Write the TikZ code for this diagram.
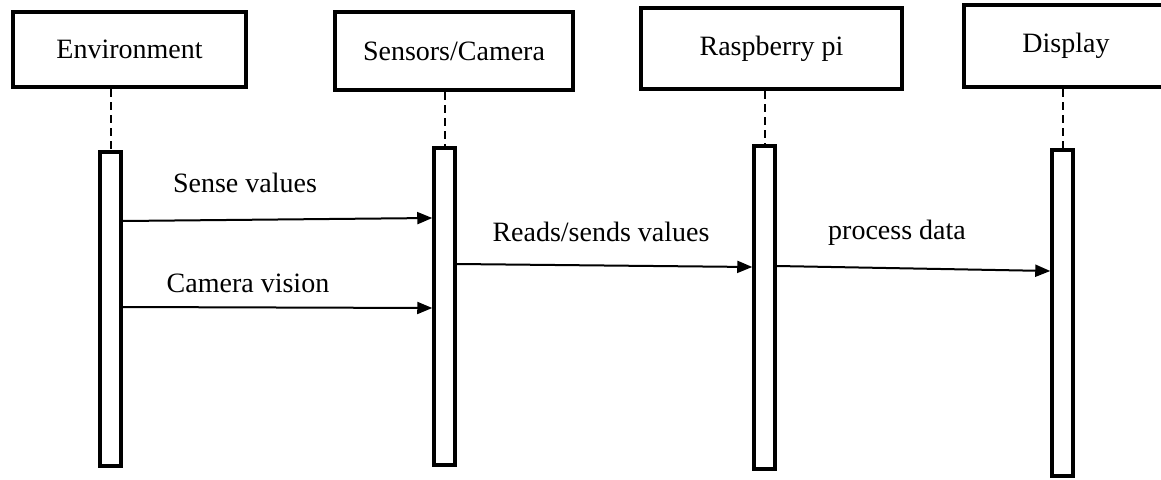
\documentclass[tikz,border=0pt]{standalone}
\usepackage{fontspec}
\setmainfont{Liberation Serif}
\usetikzlibrary{arrows.meta}

\begin{document}
\begin{tikzpicture}[x=1pt,y=-1pt,
  actor/.style={draw=black,line width=4.5pt,fill=white,inner sep=0pt,font=\fontsize{28}{32}\selectfont},
  bar/.style={draw=black,line width=3.5pt,fill=white,minimum width=21pt,inner sep=0pt},
  life/.style={draw=black,line width=2pt,dash pattern=on 8pt off 5pt},
  msg/.style={draw=black,line width=2pt,-{Triangle[length=15pt,width=12pt]}},
  lbl/.style={font=\fontsize{28}{32}\selectfont,inner sep=0pt}]
\useasboundingbox (0,0) rectangle (1161,479);
\clip (0,0) rectangle (1161,479);
% participants:
\node[actor,minimum width=233pt,minimum height=75pt] (env) at (129.5,49.5) {Environment};
\node[actor,minimum width=238pt,minimum height=78pt] (sen) at (454,51) {Sensors/Camera};
\node[actor,minimum width=261pt,minimum height=81pt] (rpi) at (771.5,48.5) {Raspberry pi};
\node[actor,minimum width=240pt,minimum height=82pt,
  label={[lbl,xshift=-18pt]center:Display}] (disp) at (1084,46) {};
% activation bars:
\node[bar,minimum height=314pt] (envbar) at (110.5,309) {};
\node[bar,minimum height=317pt] (senbar) at (444.5,306.5) {};
\node[bar,minimum height=323pt] (rpibar) at (764.5,307.5) {};
\node[bar,minimum height=326pt] (dispbar) at (1062.5,313) {};
% lifelines:
\path[life] (env.south -| envbar.north) -- (envbar.north);
\path[life] (sen.south -| senbar.north) -- (senbar.north);
\path[life] (rpi.south -| rpibar.north) -- (rpibar.north);
\path[life] (disp.south -| dispbar.north) -- (dispbar.north);
% messages:
\path[msg] (envbar.east |- 0,221) -- (senbar.west |- 0,218);
\path[msg] (envbar.east |- 0,307) -- (senbar.west |- 0,308);
\path[msg] (senbar.east |- 0,264) -- (rpibar.west |- 0,267);
\path[msg] (rpibar.east |- 0,266) -- (dispbar.west |- 0,271);
\node[lbl] (senselbl) at (245,183) {Sense values};
\node[lbl] (visionlbl) at (248,283) {Camera vision};
\node[lbl] (readslbl) at (601,232) {Reads/sends values};
\node[lbl] (proclbl) at (897,233) {process data};
\end{tikzpicture}
\end{document}
